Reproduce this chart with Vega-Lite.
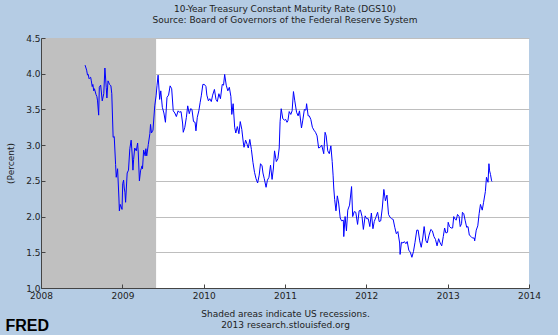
{
 "$schema": "https://vega.github.io/schema/vega-lite/v6.json",
 "width": 488,
 "height": 250,
 "autosize": {"type": "none"},
 "padding": {"left": 41, "top": 38, "right": 29, "bottom": 47},
 "background": "#B5CCE4",
 "config": {"view": {"fill": "white", "stroke": null}, "font": "DejaVu Sans"},
 "title": {"text": "10-Year Treasury Constant Maturity Rate (DGS10)", "subtitle": "Source: Board of Governors of the Federal Reserve System", "fontSize": 9, "subtitleFontSize": 9, "fontWeight": "normal", "color": "#222222", "subtitleColor": "#222222", "subtitlePadding": 2, "offset": 9, "anchor": "middle", "frame": "group"},
 "layer": [
  {
   "data": {"values": [{"start": "2007-12-01", "end": "2009-06-01"}]},
   "mark": {"type": "rect", "color": "#C0C0C0", "clip": true},
   "encoding": {
    "x": {"field": "start", "type": "temporal",
      "scale": {"domain": [{"year": 2008, "month": 1, "date": 1}, {"year": 2014, "month": 1, "date": 1}], "nice": false},
      "axis": {"orient": "bottom", "labels": false, "ticks": false, "domain": false, "grid": false, "title": "FRED", "titleFont": "Liberation Sans", "titleFontSize": 16, "titleFontWeight": "bold", "titleColor": "#000000", "titleAlign": "left", "titleBaseline": "alphabetic", "titleX": -36, "titleY": 42, "titleAngle": 0}},
    "x2": {"field": "end"},
    "y": {"datum": 1, "type": "quantitative", "scale": {"domain": [1, 4.5], "nice": false, "zero": false},
      "axis": {"orient": "left", "grid": true, "gridColor": "#BEBEBE", "labels": false, "ticks": false, "domain": false, "title": null, "values": [1.5, 2, 2.5, 3, 3.5, 4, 4.5], "zindex": 0}},
    "y2": {"datum": 4.5}
   }
  },
  {
   "data": {"values": [
{"d":"2008-07-17","v":4.12},{"d":"2008-07-21","v":4.08},{"d":"2008-07-24","v":4.05},{"d":"2008-07-28","v":3.98},{"d":"2008-07-31","v":3.99},{"d":"2008-08-04","v":3.93},{"d":"2008-08-07","v":3.94},{"d":"2008-08-11","v":3.95},{"d":"2008-08-14","v":3.90},{"d":"2008-08-18","v":3.82},{"d":"2008-08-21","v":3.85},{"d":"2008-08-25","v":3.76},{"d":"2008-08-28","v":3.79},{"d":"2008-09-04","v":3.71},{"d":"2008-09-08","v":3.68},{"d":"2008-09-11","v":3.62},{"d":"2008-09-16","v":3.42},{"d":"2008-09-19","v":3.81},{"d":"2008-09-25","v":3.84},{"d":"2008-10-02","v":3.62},{"d":"2008-10-09","v":3.72},{"d":"2008-10-14","v":4.08},{"d":"2008-10-20","v":3.81},{"d":"2008-10-23","v":3.66},{"d":"2008-10-28","v":3.90},{"d":"2008-11-04","v":3.85},{"d":"2008-11-10","v":3.83},{"d":"2008-11-14","v":3.72},{"d":"2008-11-20","v":3.11},{"d":"2008-11-25","v":3.12},{"d":"2008-12-01","v":2.73},{"d":"2008-12-04","v":2.55},{"d":"2008-12-10","v":2.67},{"d":"2008-12-16","v":2.26},{"d":"2008-12-18","v":2.08},{"d":"2008-12-22","v":2.17},{"d":"2008-12-30","v":2.10},
{"d":"2009-01-02","v":2.46},{"d":"2009-01-06","v":2.51},{"d":"2009-01-09","v":2.40},{"d":"2009-01-12","v":2.34},{"d":"2009-01-15","v":2.20},{"d":"2009-01-22","v":2.61},{"d":"2009-01-28","v":2.65},{"d":"2009-02-03","v":2.95},{"d":"2009-02-09","v":3.07},{"d":"2009-02-13","v":2.89},{"d":"2009-02-17","v":2.65},{"d":"2009-02-20","v":2.80},{"d":"2009-02-25","v":2.96},{"d":"2009-03-04","v":2.92},{"d":"2009-03-10","v":3.03},{"d":"2009-03-13","v":2.89},{"d":"2009-03-18","v":2.50},{"d":"2009-03-23","v":2.64},{"d":"2009-03-30","v":2.71},{"d":"2009-04-01","v":2.67},{"d":"2009-04-06","v":2.93},{"d":"2009-04-13","v":2.85},{"d":"2009-04-16","v":2.95},{"d":"2009-04-20","v":2.85},{"d":"2009-04-27","v":3.01},{"d":"2009-05-04","v":3.16},{"d":"2009-05-07","v":3.29},{"d":"2009-05-11","v":3.17},{"d":"2009-05-18","v":3.21},{"d":"2009-05-26","v":3.55},{"d":"2009-06-01","v":3.69},{"d":"2009-06-05","v":3.83},{"d":"2009-06-10","v":3.98},{"d":"2009-06-17","v":3.64},{"d":"2009-06-22","v":3.76},{"d":"2009-06-29","v":3.53},{"d":"2009-07-06","v":3.45},{"d":"2009-07-13","v":3.32},{"d":"2009-07-20","v":3.67},{"d":"2009-07-27","v":3.70},{"d":"2009-08-03","v":3.83},{"d":"2009-08-10","v":3.79},{"d":"2009-08-17","v":3.48},{"d":"2009-08-24","v":3.45},{"d":"2009-08-31","v":3.40},{"d":"2009-09-08","v":3.48},{"d":"2009-09-14","v":3.46},{"d":"2009-09-21","v":3.47},{"d":"2009-09-28","v":3.31},{"d":"2009-10-01","v":3.18},{"d":"2009-10-08","v":3.25},{"d":"2009-10-15","v":3.39},{"d":"2009-10-21","v":3.55},{"d":"2009-10-28","v":3.44},{"d":"2009-11-03","v":3.51},{"d":"2009-11-09","v":3.50},{"d":"2009-11-16","v":3.33},{"d":"2009-11-23","v":3.32},{"d":"2009-11-27","v":3.20},{"d":"2009-12-03","v":3.39},{"d":"2009-12-10","v":3.48},{"d":"2009-12-16","v":3.60},{"d":"2009-12-21","v":3.69},{"d":"2009-12-28","v":3.85},
{"d":"2010-01-04","v":3.85},{"d":"2010-01-11","v":3.82},{"d":"2010-01-15","v":3.70},{"d":"2010-01-22","v":3.62},{"d":"2010-01-28","v":3.65},{"d":"2010-02-04","v":3.61},{"d":"2010-02-10","v":3.70},{"d":"2010-02-18","v":3.78},{"d":"2010-02-25","v":3.64},{"d":"2010-03-03","v":3.61},{"d":"2010-03-10","v":3.72},{"d":"2010-03-17","v":3.65},{"d":"2010-03-25","v":3.85},{"d":"2010-03-31","v":3.84},{"d":"2010-04-05","v":3.99},{"d":"2010-04-12","v":3.84},{"d":"2010-04-19","v":3.76},{"d":"2010-04-26","v":3.81},{"d":"2010-05-03","v":3.68},{"d":"2010-05-07","v":3.43},{"d":"2010-05-13","v":3.58},{"d":"2010-05-20","v":3.25},{"d":"2010-05-25","v":3.17},{"d":"2010-06-01","v":3.26},{"d":"2010-06-08","v":3.16},{"d":"2010-06-14","v":3.33},{"d":"2010-06-21","v":3.22},{"d":"2010-06-28","v":3.03},{"d":"2010-07-01","v":2.97},{"d":"2010-07-08","v":3.07},{"d":"2010-07-15","v":3.01},{"d":"2010-07-20","v":2.96},{"d":"2010-07-27","v":3.08},{"d":"2010-08-03","v":2.94},{"d":"2010-08-10","v":2.76},{"d":"2010-08-17","v":2.62},{"d":"2010-08-24","v":2.53},{"d":"2010-08-31","v":2.47},{"d":"2010-09-07","v":2.58},{"d":"2010-09-13","v":2.74},{"d":"2010-09-20","v":2.71},{"d":"2010-09-24","v":2.61},{"d":"2010-09-30","v":2.53},{"d":"2010-10-08","v":2.41},{"d":"2010-10-14","v":2.51},{"d":"2010-10-21","v":2.55},{"d":"2010-10-28","v":2.72},{"d":"2010-11-04","v":2.52},{"d":"2010-11-10","v":2.68},{"d":"2010-11-15","v":2.92},{"d":"2010-11-23","v":2.77},{"d":"2010-11-30","v":2.81},{"d":"2010-12-06","v":2.96},{"d":"2010-12-10","v":3.33},{"d":"2010-12-15","v":3.51},{"d":"2010-12-22","v":3.37},{"d":"2010-12-30","v":3.35},
{"d":"2011-01-04","v":3.36},{"d":"2011-01-10","v":3.32},{"d":"2011-01-14","v":3.34},{"d":"2011-01-20","v":3.47},{"d":"2011-01-27","v":3.43},{"d":"2011-02-02","v":3.48},{"d":"2011-02-08","v":3.75},{"d":"2011-02-14","v":3.62},{"d":"2011-02-22","v":3.46},{"d":"2011-03-01","v":3.41},{"d":"2011-03-07","v":3.48},{"d":"2011-03-16","v":3.24},{"d":"2011-03-22","v":3.35},{"d":"2011-03-29","v":3.50},{"d":"2011-04-05","v":3.49},{"d":"2011-04-08","v":3.58},{"d":"2011-04-15","v":3.41},{"d":"2011-04-20","v":3.41},{"d":"2011-04-27","v":3.36},{"d":"2011-05-04","v":3.25},{"d":"2011-05-11","v":3.21},{"d":"2011-05-18","v":3.18},{"d":"2011-05-25","v":3.13},{"d":"2011-06-01","v":2.96},{"d":"2011-06-08","v":2.97},{"d":"2011-06-15","v":3.00},{"d":"2011-06-24","v":2.88},{"d":"2011-06-30","v":3.18},{"d":"2011-07-05","v":3.13},{"d":"2011-07-12","v":2.92},{"d":"2011-07-19","v":2.88},{"d":"2011-07-26","v":2.99},{"d":"2011-08-01","v":2.77},{"d":"2011-08-05","v":2.58},{"d":"2011-08-08","v":2.40},{"d":"2011-08-12","v":2.24},{"d":"2011-08-18","v":2.08},{"d":"2011-08-24","v":2.29},{"d":"2011-08-30","v":2.19},{"d":"2011-09-06","v":1.98},{"d":"2011-09-12","v":1.94},{"d":"2011-09-20","v":1.95},{"d":"2011-09-22","v":1.72},{"d":"2011-09-28","v":2.00},{"d":"2011-10-04","v":1.80},{"d":"2011-10-10","v":2.09},{"d":"2011-10-18","v":2.16},{"d":"2011-10-27","v":2.42},{"d":"2011-11-01","v":2.00},{"d":"2011-11-08","v":2.07},{"d":"2011-11-15","v":2.06},{"d":"2011-11-23","v":1.89},{"d":"2011-11-30","v":2.08},{"d":"2011-12-06","v":2.09},{"d":"2011-12-13","v":2.00},{"d":"2011-12-19","v":1.82},{"d":"2011-12-27","v":2.01},
{"d":"2012-01-03","v":1.97},{"d":"2012-01-10","v":1.97},{"d":"2012-01-17","v":1.86},{"d":"2012-01-24","v":2.05},{"d":"2012-01-31","v":1.83},{"d":"2012-02-06","v":1.93},{"d":"2012-02-13","v":1.99},{"d":"2012-02-21","v":2.06},{"d":"2012-02-28","v":1.93},{"d":"2012-03-06","v":1.94},{"d":"2012-03-13","v":2.12},{"d":"2012-03-20","v":2.38},{"d":"2012-03-27","v":2.22},{"d":"2012-04-03","v":2.30},{"d":"2012-04-10","v":2.03},{"d":"2012-04-17","v":1.99},{"d":"2012-04-24","v":1.97},{"d":"2012-05-01","v":1.96},{"d":"2012-05-08","v":1.85},{"d":"2012-05-15","v":1.76},{"d":"2012-05-22","v":1.79},{"d":"2012-05-30","v":1.63},{"d":"2012-06-01","v":1.47},{"d":"2012-06-07","v":1.64},{"d":"2012-06-14","v":1.63},{"d":"2012-06-20","v":1.65},{"d":"2012-06-27","v":1.62},{"d":"2012-07-03","v":1.65},{"d":"2012-07-10","v":1.53},{"d":"2012-07-17","v":1.50},{"d":"2012-07-24","v":1.43},{"d":"2012-07-31","v":1.51},{"d":"2012-08-07","v":1.64},{"d":"2012-08-15","v":1.81},{"d":"2012-08-21","v":1.81},{"d":"2012-08-28","v":1.66},{"d":"2012-09-04","v":1.57},{"d":"2012-09-11","v":1.70},{"d":"2012-09-17","v":1.86},{"d":"2012-09-25","v":1.66},{"d":"2012-10-01","v":1.63},{"d":"2012-10-09","v":1.74},{"d":"2012-10-17","v":1.82},{"d":"2012-10-24","v":1.80},{"d":"2012-10-31","v":1.72},{"d":"2012-11-07","v":1.68},{"d":"2012-11-14","v":1.59},{"d":"2012-11-21","v":1.69},{"d":"2012-11-28","v":1.63},{"d":"2012-12-05","v":1.59},{"d":"2012-12-12","v":1.72},{"d":"2012-12-18","v":1.84},{"d":"2012-12-24","v":1.77},{"d":"2012-12-31","v":1.78},
{"d":"2013-01-03","v":1.92},{"d":"2013-01-09","v":1.86},{"d":"2013-01-16","v":1.84},{"d":"2013-01-23","v":1.84},{"d":"2013-01-28","v":2.00},{"d":"2013-02-04","v":1.96},{"d":"2013-02-08","v":1.95},{"d":"2013-02-14","v":2.03},{"d":"2013-02-21","v":2.00},{"d":"2013-02-26","v":1.86},{"d":"2013-03-04","v":1.90},{"d":"2013-03-08","v":2.06},{"d":"2013-03-14","v":2.04},{"d":"2013-03-20","v":1.95},{"d":"2013-03-27","v":1.85},{"d":"2013-04-02","v":1.86},{"d":"2013-04-08","v":1.74},{"d":"2013-04-16","v":1.72},{"d":"2013-04-22","v":1.70},{"d":"2013-04-30","v":1.70},{"d":"2013-05-02","v":1.66},{"d":"2013-05-09","v":1.81},{"d":"2013-05-16","v":1.87},{"d":"2013-05-22","v":2.04},{"d":"2013-05-28","v":2.17},{"d":"2013-06-05","v":2.09},{"d":"2013-06-11","v":2.20},{"d":"2013-06-19","v":2.35},{"d":"2013-06-24","v":2.55},{"d":"2013-07-01","v":2.48},{"d":"2013-07-05","v":2.74},{"d":"2013-07-08","v":2.64},{"d":"2013-07-12","v":2.59},{"d":"2013-07-17","v":2.50},{"d":"2013-07-19","v":2.49}
   ]},
   "mark": {"type": "line", "color": "#0000FF", "strokeWidth": 1},
   "encoding": {
    "x": {"field": "d", "type": "temporal",
      "axis": {"orient": "bottom", "grid": false, "zindex": 1, "format": "%Y", "tickCount": {"interval": "year", "step": 1}, "labelFlush": false, "tickSize": -4, "tickColor": "#444444", "domainColor": "#444444", "labelFontSize": 9, "labelColor": "#222222", "labelPadding": 7, "title": ["Shaded areas indicate US recessions.", "2013 research.stlouisfed.org"], "titleFontSize": 9, "titleFontWeight": "normal", "titleColor": "#222222", "titlePadding": 9, "titleLineHeight": 11}},
    "y": {"field": "v", "type": "quantitative",
      "axis": {"orient": "left", "grid": false, "zindex": 1, "values": [1, 1.5, 2, 2.5, 3, 3.5, 4, 4.5], "format": ".1f", "tickSize": -4, "tickColor": "#444444", "domainColor": "#444444", "labelFontSize": 9, "labelColor": "#222222", "labelPadding": 5, "title": "(Percent)", "titleFontSize": 9, "titleFontWeight": "normal", "titleColor": "#222222", "titlePadding": 10}}
   }
  }
 ],
 "resolve": {"axis": {"x": "independent", "y": "independent"}}
}
